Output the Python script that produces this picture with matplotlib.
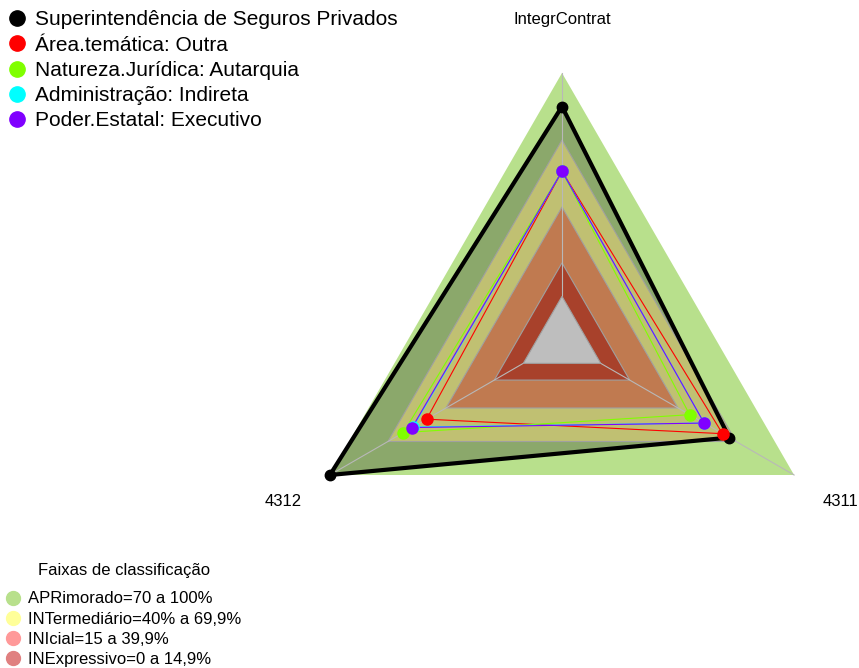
import numpy as np
import matplotlib.pyplot as plt
from matplotlib.lines import Line2D

plt.rcParams['font.family'] = ['Liberation Sans', 'DejaVu Sans']

# eixos do radar (ordem anti-horária a partir do topo)
eixos = ["IntegrContrat", "4312", "4311"]

# valores em %
series = ["Superintendência de Seguros Privados",
          "Área.temática: Outra",
          "Natureza.Jurídica: Autarquia",
          "Administração: Indireta",
          "Poder.Estatal: Executivo"]
v_sup = [85, 100, 66.5]
v_area = [56, 50, 63]
v_nat = [56, 62, 46]
v_adm = [56, 57, 53.5]
v_pod = [56, 57.5, 53.5]
valores = [v_sup, v_area, v_nat, v_adm, v_pod]
cores = ["black", "#FF0000", "#80FF00", "#00FFFF", "#8000FF"]

# faixas de classificação
faixas_lim = [100, 70, 40, 15, 0]
faixas_cor = ["#B8E08C", "#C0C072", "#C07A50", "#A8412B", "#BEBEBE"]
faixas_txt = ["APRimorado=70 a 100%", "INTermediário=40% a 69,9%",
              "INIcial=15 a 39,9%", "INExpressivo=0 a 14,9%"]
faixas_leg = ["#B8E08C", "#FFFF99", "#FF9999", "#E08080"]

SEG = 5
theta = np.deg2rad(90 + 120 * np.arange(len(eixos)))


def xy(vals):
    r = 1 / (SEG + 1) + np.asarray(vals) / 100 * SEG / (SEG + 1)
    return r * np.cos(theta), r * np.sin(theta)


fig = plt.figure(figsize=(8.59, 6.68), dpi=100)
ax = fig.add_axes([0, 0, 1, 1])
ax.set_xlim(-562 / 268, 297 / 268)
ax.set_ylim(-327 / 268, 341 / 268)
ax.axis('off')

# faixa externa, depois o preenchimento da série principal
x, y = xy([100] * 3)
ax.fill(x, y, color=faixas_cor[0], lw=0, zorder=1)
x, y = xy(v_sup)
ax.fill(x, y, color="#8BA86B", lw=0, zorder=2)
for lim, cor in zip(faixas_lim[1:-1], faixas_cor[1:-1]):
    x, y = xy([lim] * 3)
    ax.fill(x, y, facecolor=cor, edgecolor="#A0A0A0", lw=0.8, zorder=3)

# eixos radiais, cobertos no centro pela faixa cinza
for t in theta:
    ax.plot([0, np.cos(t)], [0, np.sin(t)], color="#B8B8B8", lw=0.8, zorder=4)
x, y = xy([faixas_lim[-1]] * 3)
ax.fill(x, y, facecolor=faixas_cor[-1], edgecolor="#A0A0A0", lw=0.8, zorder=4.5)

for vals, cor in zip(valores, cores):
    x, y = xy(vals)
    xc, yc = np.append(x, x[0]), np.append(y, y[0])
    if cor == "black":
        ax.plot(xc, yc, color=cor, lw=3, zorder=5)
        ax.plot(x, y, 'o', color=cor, ms=7.5, zorder=6)
    else:
        ax.plot(xc, yc, color=cor, lw=0.8, zorder=5)
        ax.plot(x, y, 'o', color=cor, ms=8, zorder=6)

for nome, t in zip(eixos, theta):
    ax.text(1.2 * np.cos(t), 1.2 * np.sin(t), nome, fontsize=12,
            ha='center', va='center')

h1 = [Line2D([], [], marker='o', ls='', color=c, ms=11) for c in cores]
fig.legend(h1, series, loc='upper left', bbox_to_anchor=(0.008, 0.9844),
           frameon=False, fontsize=15, handlelength=1, handletextpad=0.37,
           labelspacing=0.30, borderpad=0, borderaxespad=0)

h2 = [Line2D([], [], marker='o', ls='', color=c, ms=10) for c in faixas_leg]
fig.legend(h2, faixas_txt, loc='upper left', bbox_to_anchor=(0.005, 0.1147),
           frameon=False, fontsize=12, handlelength=1, handletextpad=0.45,
           labelspacing=0.31, borderpad=0, borderaxespad=0)
fig.text(124 / 859, 1 - 571 / 668, "Faixas de classificação", fontsize=12,
         ha='center', va='center')

fig.savefig("out.png", dpi=100)
